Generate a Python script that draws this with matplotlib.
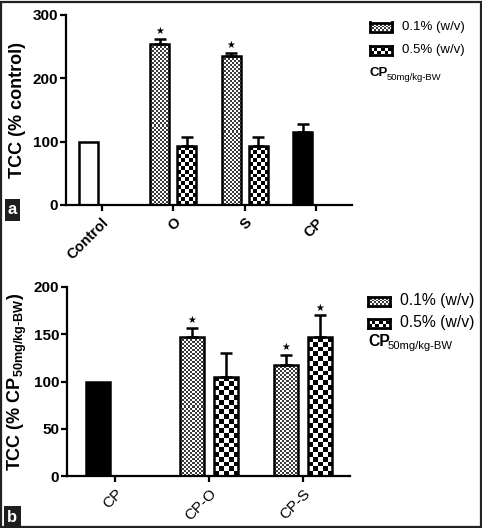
"""
Recreate TCC bar chart (two panels a/b) with checker-pattern bars.
"""
import numpy as np
import matplotlib
matplotlib.use("Agg")
import matplotlib.pyplot as plt
from matplotlib.patches import Rectangle

plt.rcParams["font.family"] = ["Liberation Sans", "DejaVu Sans"]

W, H = 482, 528

# ---- data, panel a ----
cats_a = ["Control", "O", "S", "CP"]
ctrl_a = 100
w01_a = [254, 235]
w01_err_a = [8, 5]
w05_a = [93, 93]
w05_err_a = [14, 14]
cp_a = 115
cp_err_a = 13
star_w01_a = [True, True]
star_w05_a = [False, False]

# ---- data, panel b ----
cats_b = ["CP", "CP-O", "CP-S"]
cp_b = 100
w01_b = [147, 117.5]
w01_err_b = [9.5, 10.5]
w05_b = [105, 147]
w05_err_b = [25, 23]
star_w01_b = [True, True]
star_w05_b = [False, True]


def fr(x0, y0, x1, y1):
    """pixel box (top-left origin) -> figure fraction rect"""
    return [x0 / W, 1 - y1 / H, (x1 - x0) / W, (y1 - y0) / H]


def checker(ax, bar, cell_px, dark="black"):
    x0, y0 = bar.get_x(), bar.get_y()
    w, h = bar.get_width(), bar.get_height()
    p0 = ax.transData.transform((x0, y0))
    p1 = ax.transData.transform((x0 + w, y0 + h))
    nx = max(1, int(round((p1[0] - p0[0]) / cell_px)))
    ny = max(1, int(round((p1[1] - p0[1]) / cell_px)))
    img = np.add.outer(np.arange(ny), np.arange(nx)) % 2
    cmap = matplotlib.colors.ListedColormap([dark, "white"])
    im = ax.imshow(img, cmap=cmap, extent=(x0, x0 + w, y0, y0 + h),
                   interpolation="nearest", aspect="auto", zorder=2)
    im.set_clip_path(bar)


def draw_bars(ax, xs, vals, errs, width, style, stars=None, cell=2):
    bars = ax.bar(xs, vals, width, facecolor="none" if style != "solid" else "black",
                  edgecolor="black", linewidth=1.8, zorder=3)
    for b in bars:
        if style == "fine":
            checker(ax, b, 2, dark="#3a3a3a")
        elif style == "coarse":
            checker(ax, b, cell)
    xe = [x for x, e in zip(xs, errs) if e > 0]
    ve = [v for v, e in zip(vals, errs) if e > 0]
    ee = [e for e in errs if e > 0]
    if ee:
        ax.errorbar(xe, ve, yerr=[np.zeros(len(ee)), ee], fmt="none", ecolor="black",
                    elinewidth=1.8, capsize=4.2, capthick=1.8, zorder=4)
    if stars:
        for x, v, e, s in zip(xs, vals, errs, stars):
            if s:
                ax.annotate("\u2605", (x, v + e), xytext=(0, 2), textcoords="offset points",
                            ha="center", va="bottom", fontsize=7, family="DejaVu Sans")


def style_axes(ax, xlabsize, xbold):
    for s in ["top", "right"]:
        ax.spines[s].set_visible(False)
    for s in ["left", "bottom"]:
        ax.spines[s].set_linewidth(1.6)
    ax.tick_params(axis="y", width=1.6, length=4, labelsize=11, pad=1.5)
    ax.tick_params(axis="x", width=1.6, length=4.5, labelsize=xlabsize, pad=3)
    for lab in ax.get_yticklabels():
        lab.set_fontweight("bold")
    for lab in ax.get_xticklabels():
        lab.set_fontweight("bold" if xbold else "normal")


def legend(fig, x, ys, labels_fs, cp_y, sub_dx, cells):
    names = ["0.1% (w/v)", "0.5% (w/v)"]
    for y, name, (fine, dark) in zip(ys, names, cells):
        sw = fig.add_axes(fr(x, y - 4.5, x + 22, y + 4.5))
        img = np.add.outer(np.arange(5 if fine else 3), np.arange(11 if fine else 6)) % 2
        sw.imshow(img, cmap=matplotlib.colors.ListedColormap([dark, "white"]),
                  aspect="auto", interpolation="nearest")
        sw.set_xticks([])
        sw.set_yticks([])
        for s in sw.spines.values():
            s.set_linewidth(2)
        fig.text((x + 32) / W, 1 - y / H, name, fontsize=labels_fs, va="center", ha="left")
    fig.text(x / W, 1 - cp_y / H, "CP", fontsize=labels_fs, fontweight="bold", va="center")
    fig.text((x + sub_dx) / W, 1 - (cp_y + 4) / H, "50mg/kg-BW", fontsize=labels_fs * 0.72,
             va="center")


fig = plt.figure(figsize=(W / 100, H / 100), dpi=100)

# ---------- panel a ----------
axa = fig.add_axes(fr(66, 15, 352, 205))
axa.set_xlim(-0.5, 3.5)
axa.set_ylim(0, 300)
off_a, bw_a = 0.19, 0.27
draw_bars(axa, [0 - off_a], [ctrl_a], [0], bw_a, "white")
draw_bars(axa, np.array([1, 2]) - off_a, w01_a, w01_err_a, bw_a, "fine", star_w01_a)
draw_bars(axa, np.array([1, 2]) + off_a, w05_a, w05_err_a, bw_a, "coarse", star_w05_a, cell=3.8)
draw_bars(axa, [3 - off_a], [cp_a], [cp_err_a], bw_a, "solid")
axa.set_xlim(-0.5, 3.5)
axa.set_ylim(0, 300)
axa.set_yticks([0, 100, 200, 300])
axa.set_xticks(range(len(cats_a)))
axa.set_xticklabels(cats_a, rotation=45, ha="right", rotation_mode="anchor")
style_axes(axa, 10.5, True)
axa.set_ylabel("TCC (% control)", fontsize=13, fontweight="bold")
axa.yaxis.set_label_coords(-0.14, 0.5)

# ---------- panel b ----------
axb = fig.add_axes(fr(67, 287, 350, 476))
axb.set_xlim(-0.51, 2.5)
axb.set_ylim(0, 200)
off_b, bw_b = 0.18, 0.26
draw_bars(axb, [0 - off_b], [cp_b], [0], bw_b, "solid")
draw_bars(axb, np.array([1, 2]) - off_b, w01_b, w01_err_b, bw_b, "fine", star_w01_b)
draw_bars(axb, np.array([1, 2]) + off_b, w05_b, w05_err_b, bw_b, "coarse", star_w05_b, cell=4.8)
axb.set_xlim(-0.51, 2.5)
axb.set_ylim(0, 200)
axb.set_yticks([0, 50, 100, 150, 200])
axb.set_xticks(range(len(cats_b)))
axb.set_xticklabels(cats_b, rotation=45, ha="right", rotation_mode="anchor")
style_axes(axb, 11, False)
axb.set_ylabel(r"TCC (% CP$_{\mathregular{50mg/kg}\text{-}\mathregular{BW}}$)", fontsize=13,
               fontweight="bold")
axb.yaxis.set_label_coords(-0.135, 0.5)

# ---------- legends ----------
legend(fig, 370, [27, 50], 9.5, 73, 17, [(True, "#3a3a3a"), (False, "black")])
legend(fig, 368, [301, 323], 11.3, 342, 20, [(True, "#3a3a3a"), (False, "black")])

# ---------- panel letters and frame ----------
fig.text(12.5 / W, 1 - 210 / H, "a", color="white", fontsize=12, fontweight="bold",
         ha="center", va="center",
         bbox=dict(boxstyle="square,pad=0.2", facecolor="#1e1e1e", edgecolor="none"))
fig.text(12.5 / W, 1 - 517 / H, "b", color="white", fontsize=12, fontweight="bold",
         ha="center", va="center",
         bbox=dict(boxstyle="square,pad=0.2", facecolor="#1e1e1e", edgecolor="none"))
fig.patches.append(Rectangle((0.002, 0.002), 0.995, 0.995, transform=fig.transFigure,
                             fill=False, edgecolor="#222222", linewidth=1.6))

plt.savefig("out.png", dpi=100)
